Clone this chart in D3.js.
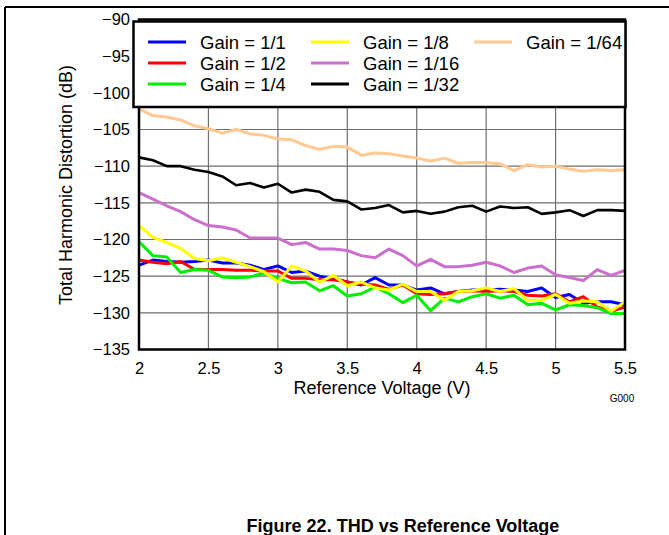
<!DOCTYPE html>
<html>
<head>
<meta charset="utf-8">
<script src="https://cdn.jsdelivr.net/npm/d3@7"></script>
<style>
  body { margin: 0; background: #fff; }
  svg { display: block; font-family: "Liberation Sans", Arial, sans-serif; }
</style>
</head>
<body>
<svg width="669" height="535"></svg>
<script>
// Reference voltage (V), one point every 0.1 V
const voltage = [2.0, 2.1, 2.2, 2.3, 2.4, 2.5, 2.6, 2.7, 2.8, 2.9,
                 3.0, 3.1, 3.2, 3.3, 3.4, 3.5, 3.6, 3.7, 3.8, 3.9,
                 4.0, 4.1, 4.2, 4.3, 4.4, 4.5, 4.6, 4.7, 4.8, 4.9,
                 5.0, 5.1, 5.2, 5.3, 5.4, 5.5];

// THD (dB)
const gain1 = [-123.5, -122.8, -123.0, -123.1, -123.0, -122.8, -123.2, -123.2, -123.5, -124.1,
               -123.6, -124.5, -124.3, -125.0, -125.3, -125.8, -126.2, -125.2, -126.2, -126.2,
               -126.9, -126.6, -127.4, -127.1, -126.9, -126.9, -126.8, -126.9, -127.1, -126.6,
               -127.9, -127.5, -128.7, -128.5, -128.5, -128.9];
const gain2 = [-122.8, -123.1, -123.3, -123.0, -124.1, -124.1, -124.1, -124.2, -124.2, -124.3,
               -124.3, -125.3, -125.3, -125.5, -125.5, -125.8, -126.1, -126.2, -126.8, -126.2,
               -127.4, -127.5, -127.4, -127.1, -127.0, -127.1, -127.0, -127.1, -127.6, -127.7,
               -127.4, -128.5, -127.8, -129.2, -129.8, -129.2];
const gain4 = [-120.3, -122.2, -122.4, -124.5, -124.1, -124.2, -125.1, -125.2, -125.1, -124.6,
               -125.3, -125.9, -125.8, -127.0, -126.3, -127.7, -127.4, -126.5, -127.4, -128.6,
               -127.6, -129.7, -128.0, -128.5, -127.8, -127.4, -128.0, -127.6, -128.9, -128.7,
               -129.6, -128.9, -129.0, -129.3, -130.1, -130.1];
const gain8 = [-118.1, -119.7, -120.4, -121.2, -122.6, -122.9, -122.5, -123.1, -123.7, -124.4,
               -125.8, -123.6, -124.3, -125.8, -124.9, -126.3, -125.8, -126.6, -126.9, -126.1,
               -127.1, -127.1, -128.3, -127.1, -127.0, -126.6, -127.1, -126.7, -128.3, -128.3,
               -127.5, -128.7, -128.4, -128.5, -129.8, -128.5];
const gain16 = [-113.6, -114.5, -115.4, -116.2, -117.3, -118.1, -118.3, -118.7, -119.8, -119.8,
                -119.8, -120.7, -120.4, -121.3, -121.3, -121.5, -122.2, -122.5, -121.3, -122.2,
                -123.6, -122.7, -123.7, -123.7, -123.5, -123.1, -123.6, -124.5, -123.9, -123.6,
                -124.8, -125.2, -125.6, -124.1, -124.9, -124.2];
const gain32 = [-108.8, -109.2, -110.0, -110.0, -110.5, -110.8, -111.4, -112.6, -112.3, -112.9,
                -112.4, -113.6, -113.2, -113.5, -114.6, -114.8, -115.9, -115.7, -115.3, -116.3,
                -116.1, -116.5, -116.2, -115.6, -115.4, -116.2, -115.5, -115.7, -115.6, -116.5,
                -116.3, -116.0, -116.8, -116.0, -116.0, -116.1];
const gain64 = [-102.2, -103.1, -103.3, -103.7, -104.5, -104.9, -105.5, -105.0, -105.6, -105.8,
                -106.3, -106.4, -107.2, -107.7, -107.3, -107.4, -108.5, -108.2, -108.3, -108.6,
                -108.9, -109.3, -108.9, -109.6, -109.5, -109.5, -109.7, -110.6, -109.8, -110.1,
                -110.0, -110.4, -110.7, -110.5, -110.6, -110.5];

const seriesNames = ["Gain = 1/1", "Gain = 1/2", "Gain = 1/4", "Gain = 1/8", "Gain = 1/16", "Gain = 1/32", "Gain = 1/64"];
const seriesColors = ["#0000ff", "#ff0000", "#00ee00", "#ffff00", "#cc6fcc", "#000000", "#ffc991"];
const seriesValues = [gain1, gain2, gain4, gain8, gain16, gain32, gain64];

const xTicks = [2, 2.5, 3, 3.5, 4, 4.5, 5, 5.5];
const xTickLabels = ["2", "2.5", "3", "3.5", "4", "4.5", "5", "5.5"];
const yTicks = [-135, -130, -125, -120, -115, -110, -105, -100, -95, -90];
const yTickLabels = ["\u2212135", "\u2212130", "\u2212125", "\u2212120", "\u2212115", "\u2212110", "\u2212105", "\u2212100", "\u221295", "\u221290"];

const svg = d3.select("svg");
const plotLeft = 139, plotRight = 625, plotTop = 19.5, plotBottom = 349.5;

const x = d3.scaleLinear().domain([2, 5.5]).range([plotLeft, plotRight]);
const y = d3.scaleLinear().domain([-135, -90]).range([plotBottom, plotTop]);

// page frame
svg.append("line").attr("x1", 5).attr("y1", 7).attr("x2", 669).attr("y2", 7)
    .attr("stroke", "#000").attr("stroke-width", 2);
svg.append("line").attr("x1", 5).attr("y1", 7).attr("x2", 5).attr("y2", 535)
    .attr("stroke", "#000").attr("stroke-width", 2);

// grid
const grid = svg.append("g");
grid.selectAll("line.v").data(xTicks).join("line")
    .attr("class", "v")
    .attr("x1", d => x(d)).attr("x2", d => x(d))
    .attr("y1", plotTop).attr("y2", plotBottom)
    .attr("stroke", "#6e6e6e").attr("stroke-width", 1.2);
grid.selectAll("line.h").data(yTicks).join("line")
    .attr("class", "h")
    .attr("x1", plotLeft).attr("x2", plotRight)
    .attr("y1", d => y(d)).attr("y2", d => y(d))
    .attr("stroke", "#6e6e6e").attr("stroke-width", 1.2);

// axes (labels only, the frame draws the lines)
const xAxis = svg.append("g")
    .attr("transform", `translate(0,${plotBottom})`)
    .call(d3.axisBottom(x).tickValues(xTicks).tickSize(0).tickPadding(13)
        .tickFormat((d, i) => xTickLabels[i]));
const yAxis = svg.append("g")
    .attr("transform", `translate(${plotLeft},0)`)
    .call(d3.axisLeft(y).tickValues(yTicks).tickSize(0).tickPadding(9)
        .tickFormat((d, i) => yTickLabels[i]));
[xAxis, yAxis].forEach(a => {
    a.select(".domain").remove();
    a.selectAll("text").attr("font-size", 16.5).attr("fill", "#000")
        .attr("font-family", "Liberation Sans, Arial, sans-serif");
});

// lines
const line = d3.line().x((d, i) => x(voltage[i])).y(d => y(d));
svg.append("g").selectAll("path").data(seriesValues).join("path")
    .attr("d", d => line(d))
    .attr("fill", "none")
    .attr("stroke", (d, i) => seriesColors[i])
    .attr("stroke-width", (d, i) => i === 5 ? 2.6 : 3)
    .attr("stroke-linejoin", "round");

// frame
svg.append("rect").attr("x", plotLeft).attr("y", plotTop)
    .attr("width", plotRight - plotLeft).attr("height", plotBottom - plotTop)
    .attr("fill", "none").attr("stroke", "#000").attr("stroke-width", 2.5);

// legend
const legend = svg.append("g");
legend.append("rect").attr("x", 133.5).attr("y", 21.5).attr("width", 492).attr("height", 85.5)
    .attr("fill", "#fff").attr("stroke", "#000").attr("stroke-width", 2.5);
const colX = [148, 311, 474];
const rowY = [42, 63, 84];
const items = legend.selectAll("g").data(seriesNames).join("g")
    .attr("transform", (d, i) => {
        const col = i < 3 ? 0 : i < 6 ? 1 : 2;
        const row = i < 3 ? i : i < 6 ? i - 3 : 0;
        return `translate(${colX[col]},${rowY[row]})`;
    });
items.append("line").attr("x1", 0).attr("x2", 38).attr("y1", 0).attr("y2", 0)
    .attr("stroke", (d, i) => seriesColors[i]).attr("stroke-width", 3);
items.append("text").attr("x", 52).attr("y", 6.5).attr("font-size", 18.5).text(d => d);

// titles
svg.append("text").attr("x", 382).attr("y", 394).attr("text-anchor", "middle")
    .attr("font-size", 18).text("Reference Voltage (V)");
svg.append("text").attr("transform", "translate(72,185) rotate(-90)").attr("text-anchor", "middle")
    .attr("font-size", 18).text("Total Harmonic Distortion (dB)");
svg.append("text").attr("x", 622).attr("y", 402).attr("text-anchor", "middle")
    .attr("font-size", 10).text("G000");
svg.append("text").attr("x", 403).attr("y", 532).attr("text-anchor", "middle")
    .attr("font-size", 18).attr("font-weight", "bold").text("Figure 22. THD vs Reference Voltage");
</script>
</body>
</html>
